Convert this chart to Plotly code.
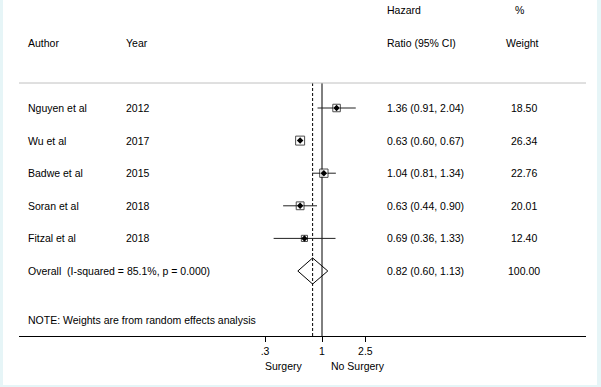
import plotly.graph_objects as go
import math

# ---------------- data ----------------
authors = ["Nguyen et al", "Wu et al", "Badwe et al", "Soran et al", "Fitzal et al"]
years = ["2012", "2017", "2015", "2018", "2018"]
hr = [1.36, 0.63, 1.04, 0.63, 0.69]
lcl = [0.91, 0.60, 0.81, 0.44, 0.36]
ucl = [2.04, 0.67, 1.34, 0.90, 1.33]
weights = [18.50, 26.34, 22.76, 20.01, 12.40]

overall_hr = 0.82
overall_lcl = 0.60
overall_ucl = 1.13
overall_weight = 100.00
i_squared = 85.1
p_value = 0.000

tick_vals = [0.3, 1, 2.5]
tick_text = [".3", "1", "2.5"]
left_label = "Surgery"
right_label = "No Surgery"
note = "NOTE: Weights are from random effects analysis"

# ---------------- layout helpers ----------------
W, H = 601, 387
L_PX, R_PX = 19, 586          # plot area (axis line) extent
AX_PX = 336                   # axis line y pixel
ROW0_PX, ROW_STEP = 108, 32.6
X1_PX, DEC_PX = 322, 109      # pixel of HR=1, pixels per decade

def px(p):                    # pixel x -> paper x
    return (p - L_PX) / (R_PX - L_PX)

def py(p):                    # pixel y -> paper y
    return (AX_PX - p) / AX_PX

rows = list(range(len(authors)))
overall_row = len(authors)
FONT = "Liberation Sans, Arial, sans-serif"
FS = 10.5

fig = go.Figure()

# CI lines
cx, cy = [], []
for r, lo, hi in zip(rows, lcl, ucl):
    cx += [lo, hi, None]
    cy += [r, r, None]
fig.add_trace(go.Scatter(x=cx, y=cy, mode="lines",
                         line=dict(color="#222222", width=1), hoverinfo="skip"))

# weight boxes
fig.add_trace(go.Scatter(x=hr, y=rows, mode="markers",
                         marker=dict(symbol="square", color="white",
                                     size=[1.75 * math.sqrt(w) for w in weights],
                                     line=dict(color="black", width=1)),
                         hoverinfo="skip"))
# point estimates
fig.add_trace(go.Scatter(x=hr, y=rows, mode="markers",
                         marker=dict(symbol="diamond", color="black", size=5),
                         hoverinfo="skip"))

# overall diamond
dh = 0.4
fig.add_trace(go.Scatter(
    x=[overall_lcl, overall_hr, overall_ucl, overall_hr, overall_lcl],
    y=[overall_row, overall_row - dh, overall_row, overall_row + dh, overall_row],
    mode="lines", line=dict(color="black", width=1), hoverinfo="skip"))

top_line_row = (83 - ROW0_PX) / ROW_STEP

shapes = [
    # grey header rule
    dict(type="line", xref="paper", yref="y", x0=0, x1=1,
         y0=top_line_row, y1=top_line_row, line=dict(color="#c0c0c0", width=1)),
    # null line
    dict(type="line", xref="x", yref="y", x0=1, x1=1,
         y0=top_line_row, y1=(AX_PX - ROW0_PX) / ROW_STEP,
         line=dict(color="black", width=1), layer="below"),
    # overall dashed line
    dict(type="line", xref="x", yref="y", x0=overall_hr, x1=overall_hr,
         y0=top_line_row, y1=(AX_PX - ROW0_PX) / ROW_STEP,
         line=dict(color="black", width=1, dash="3px,2px"), layer="below"),
    # light cyan frame strips
    dict(type="rect", xref="paper", yref="paper", x0=px(0), x1=px(3), y0=py(H), y1=py(0),
         fillcolor="#e6f5f7", line=dict(width=0)),
    dict(type="rect", xref="paper", yref="paper", x0=px(597), x1=px(W), y0=py(H), y1=py(0),
         fillcolor="#e6f5f7", line=dict(width=0)),
    dict(type="rect", xref="paper", yref="paper", x0=px(0), x1=px(W), y0=py(H), y1=py(385),
         fillcolor="#e6f5f7", line=dict(width=0)),
]

ann = []
def txt(text, xp, row, anchor="left", yref="y"):
    ann.append(dict(text=text, x=xp, y=row, xref="paper", yref=yref,
                    xanchor=anchor, yanchor="middle", showarrow=False,
                    font=dict(family=FONT, size=FS, color="black")))

COL_AUTH, COL_YEAR, COL_HR = px(26), px(123.5), px(385)
COL_WT = px(523.5)

# headers
txt("Hazard", COL_HR, -3)
txt("%", px(513), -3)
txt("Author", COL_AUTH, -2)
txt("Year", COL_YEAR, -2)
txt("Ratio (95% CI)", COL_HR, -2)
txt("Weight", px(504), -2)

for r, a, y_, h, lo, hi, w in zip(rows, authors, years, hr, lcl, ucl, weights):
    txt(a, COL_AUTH, r)
    txt(y_, COL_YEAR, r)
    txt(f"{h:.2f} ({lo:.2f}, {hi:.2f})", COL_HR, r)
    txt(f"{w:.2f}", COL_WT, r, anchor="center")

txt(f"Overall&nbsp;&nbsp;(I-squared = {i_squared:.1f}%, p = {p_value:.3f})", COL_AUTH, overall_row)
txt(f"{overall_hr:.2f} ({overall_lcl:.2f}, {overall_ucl:.2f})", COL_HR, overall_row)
txt(f"{overall_weight:.2f}", COL_WT, overall_row, anchor="center")
txt(note, COL_AUTH, 6.5)

txt(left_label, px(284), py(366), anchor="center", yref="paper")
txt(right_label, px(358), py(366), anchor="center", yref="paper")

fig.update_layout(
    width=W, height=H,
    margin=dict(l=L_PX, r=W - R_PX, t=0, b=H - AX_PX, pad=0),
    paper_bgcolor="white", plot_bgcolor="white",
    showlegend=False,
    shapes=shapes, annotations=ann,
    xaxis=dict(type="log",
               range=[(L_PX - X1_PX) / DEC_PX, (R_PX - X1_PX) / DEC_PX],
               tickvals=tick_vals, ticktext=tick_text,
               ticks="outside", ticklen=5, tickcolor="black", tickwidth=1,
               showline=True, linecolor="black", linewidth=1,
               showgrid=False, zeroline=False, fixedrange=True,
               tickfont=dict(family=FONT, size=FS, color="black")),
    yaxis=dict(range=[(AX_PX - ROW0_PX) / ROW_STEP, -ROW0_PX / ROW_STEP],
               showgrid=False, zeroline=False, showticklabels=False,
               showline=False, ticks="", fixedrange=True),
)

fig.write_html("out.html",
               config={"displayModeBar": False},
               post_script="document.body.style.margin='0px';document.body.style.overflow='hidden';")
